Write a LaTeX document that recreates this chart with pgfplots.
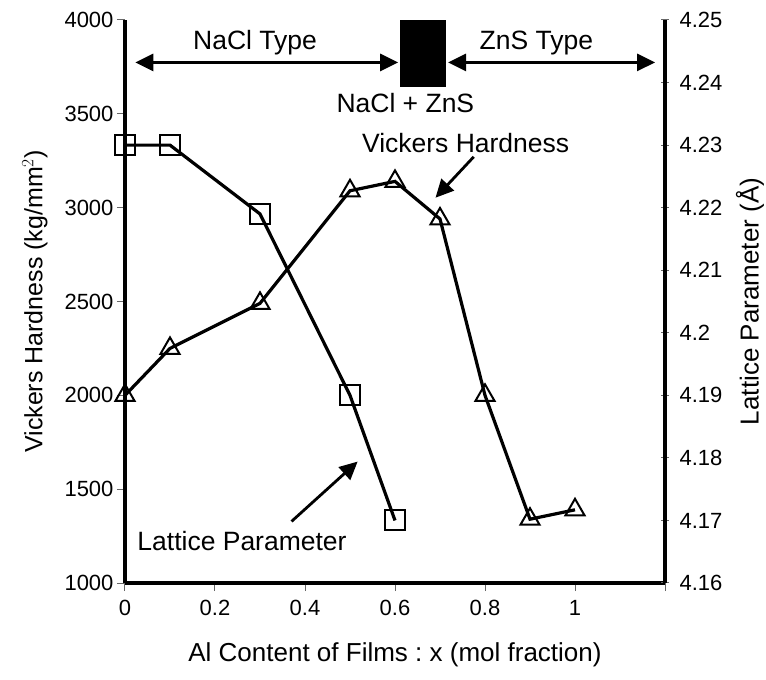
\documentclass[border=0pt]{standalone}
\usepackage{pgfplots}
\pgfplotsset{compat=1.18}
\usepackage{fontspec}
\setmainfont{Liberation Sans}
\usetikzlibrary{arrows.meta}

\pgfplotstableread{
x   h
0   2000
0.1 2250
0.3 2490
0.5 3090
0.6 3140
0.7 2940
0.8 2000
0.9 1340
1.0 1390
}\hardness
\pgfplotstableread{
x   a
0   4.230
0.1 4.230
0.3 4.219
0.5 4.190
0.6 4.170
}\lattice

\begin{document}
\frenchspacing
\begin{tikzpicture}
\pgfplotsset{
  every axis/.append style={
    width=540pt, height=563pt, scale only axis,
    xmin=0, xmax=1.2,
    axis line style={line width=3.2pt},
    tick style={line width=1pt, black!60, major tick length=8pt},
    tick label style={font=\fontsize{22}{25}\selectfont},
    label style={font=\fontsize{26}{30}\selectfont},
    /pgf/number format/assume math mode=true,
    clip=false,
  }
}
\begin{axis}[
  name=ax1,
  axis y line*=left, axis x line*=bottom,
  ymin=1000, ymax=4000,
  ytick={1000,1500,...,4000},
  /pgf/number format/1000 sep={},
  xtick={0,0.2,0.4,0.6,0.8,1,1.2},
  xticklabels={0,0.2,0.4,0.6,0.8,1,{}},
  tick align=outside,
  xticklabel style={yshift=-6pt},
  xlabel={Al Content of Films : x (mol fraction)},
  xlabel style={at={(axis description cs:0.5,0)}, anchor=center, yshift=-72pt},
  ylabel={Vickers Hardness (kg/mm$^2$)},
  ylabel style={at={(axis description cs:0,0.5)}, anchor=center, yshift=90pt,
    font=\fontsize{25}{30}\selectfont},
]
\addplot[black, line width=3.2pt, mark=triangle, mark size=11pt,
  mark options={fill=white, line width=2pt}] table[x=x,y=h] {\hardness};

% phase annotations
\fill[black] (axis cs:0.612,3644) rectangle (axis cs:0.713,4000);
\draw[line width=2.8pt, {Triangle[length=18pt,width=17pt]}-{Triangle[length=18pt,width=17pt]}]
  (axis cs:0.023,3774) -- (axis cs:0.607,3774);
\draw[line width=2.8pt, {Triangle[length=18pt,width=17pt]}-{Triangle[length=18pt,width=17pt]}]
  (axis cs:0.718,3774) -- (axis cs:1.178,3774);
\node[font=\fontsize{26.5}{30}\selectfont] at (axis cs:0.289,3878) {NaCl Type};
\node[font=\fontsize{26.5}{30}\selectfont] at (axis cs:0.914,3878) {ZnS Type};
\node[font=\fontsize{26.5}{30}\selectfont] at (axis cs:0.623,3560) {NaCl + ZnS};
\node[font=\fontsize{26.5}{30}\selectfont] at (axis cs:0.757,3345) {Vickers Hardness};
\node[font=\fontsize{26.5}{30}\selectfont] at (axis cs:0.26,1222) {Lattice Parameter};
\draw[line width=2.8pt, -{Triangle[length=18pt,width=17pt]}]
  (axis cs:0.775,3271) -- (axis cs:0.69,3053);
\draw[line width=2.8pt, -{Triangle[length=18pt,width=17pt]}]
  (axis cs:0.37,1328) -- (axis cs:0.517,1647);
\end{axis}

\begin{axis}[
  axis y line*=right, axis x line=none,
  ymin=4.16, ymax=4.25,
  ytick={4.16,4.17,4.18,4.19,4.2,4.21,4.22,4.23,4.24,4.25},
  yticklabels={4.16,4.17,4.18,4.19,4.2,4.21,4.22,4.23,4.24,4.25},
  tick align=center,
  yticklabel style={xshift=7pt},
  ylabel={Lattice Parameter (\AA)},
  ylabel style={at={(axis description cs:1,0.5)}, anchor=center, yshift=-85pt},
]
\addplot[black, line width=3.2pt, mark=square, mark size=10pt,
  mark options={fill=white, line width=2pt}] table[x=x,y=a] {\lattice};
\end{axis}

\pgfresetboundingbox
\path ([shift={(-125pt,-97pt)}]ax1.south west) rectangle ([shift={(101pt,20pt)}]ax1.north east);
\end{tikzpicture}
\end{document}
